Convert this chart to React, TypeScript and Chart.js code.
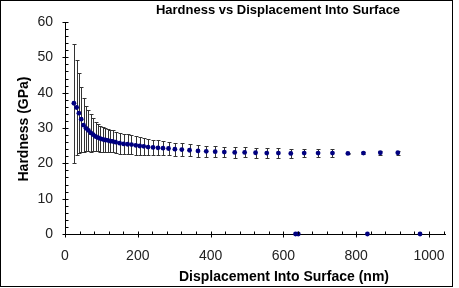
import React, { useEffect, useRef } from 'react';
import { Chart, registerables } from 'chart.js';

Chart.register(...registerables);

const chartTitle = 'Hardness vs Displacement Into Surface';
const xAxisTitle = 'Displacement Into Surface (nm)';
const yAxisTitle = 'Hardness (GPa)';

const displacement = [
  24.5, 31.9, 38.2, 44.5, 51.0, 57.8, 64.4, 70.9, 77.4, 84.0,
  90.5, 97.1, 103.6, 110.4, 117.3, 124.1, 130.9, 139.1, 150.0, 160.9,
  171.8, 182.7, 194.4, 205.3, 216.3, 228.3, 241.9, 255.5, 269.2, 284.4,
  301.9, 320.9, 342.2, 365.4, 388.1, 412.6, 437.7, 466.3, 493.6, 523.6,
  554.4, 586.3, 620.4, 657.2, 695.4, 734.9, 777.2, 820.0, 866.4, 914.4,
];
const hardness = [
  37.0, 35.8, 34.2, 32.5, 30.8, 29.9, 29.3, 28.6, 28.1, 27.6,
  27.3, 27.0, 26.8, 26.6, 26.5, 26.3, 26.2, 26.0, 25.7, 25.5,
  25.4, 25.3, 25.1, 24.9, 24.8, 24.6, 24.5, 24.4, 24.3, 24.2,
  24.0, 23.9, 23.7, 23.5, 23.4, 23.3, 23.2, 23.1, 23.1, 23.0,
  22.9, 22.9, 22.8, 22.9, 22.9, 22.9, 22.8, 22.9, 23.0, 23.0,
];
const hardnessSd = [
  16.9, 13.5, 11.3, 9.2, 7.6, 6.4, 5.8, 5.3, 4.7, 4.1,
  3.9, 3.7, 3.5, 3.3, 3.2, 3.1, 3.1, 3.0, 3.0, 2.9,
  2.8, 2.7, 2.6, 2.5, 2.4, 2.3, 2.2, 2.1, 2.0, 1.9,
  1.8, 1.8, 1.7, 1.6, 1.6, 1.5, 1.5, 1.5, 1.4, 1.4,
  1.3, 1.3, 1.3, 1.1, 1.1, 1.2, 0.1, 0.3, 0.5, 0.5,
];
const failedDisplacement = [633.5, 640.9, 830.9, 975.5];
const failedHardness = [0, 0, 0, 0];

const xMin = 0;
const xMax = 1045;
const xMajorStep = 200;
const xMinorStep = 40;
const yMin = 0;
const yMax = 60;
const yMajorStep = 10;
const yMinorStep = 2;

const FONT = '"Liberation Sans", Arial, sans-serif';
const MARKER = '#000080';

const errorBarPlugin = {
  id: 'errorBars',
  beforeDatasetsDraw(chart: any) {
    const { ctx, scales } = chart;
    const xs = scales.x;
    const ys = scales.y;
    ctx.save();
    ctx.strokeStyle = '#333333';
    ctx.lineWidth = 1;
    for (let i = 0; i < displacement.length; i++) {
      const sd = hardnessSd[i];
      if (!sd) continue;
      const x = Math.round(xs.getPixelForValue(displacement[i])) + 0.5;
      const yt = Math.round(ys.getPixelForValue(hardness[i] + sd)) + 0.5;
      const yb = Math.round(ys.getPixelForValue(hardness[i] - sd)) + 0.5;
      ctx.beginPath();
      ctx.moveTo(x, yt);
      ctx.lineTo(x, yb);
      ctx.moveTo(x - 2, yt);
      ctx.lineTo(x + 2, yt);
      ctx.moveTo(x - 2, yb);
      ctx.lineTo(x + 2, yb);
      ctx.stroke();
    }
    ctx.restore();
  },
};

const decorPlugin = {
  id: 'decor',
  afterDraw(chart: any) {
    const { ctx, scales, chartArea } = chart;
    const xs = scales.x;
    const ys = scales.y;
    ctx.save();
    ctx.strokeStyle = '#000';
    ctx.lineWidth = 1;
    ctx.beginPath();
    const axisX = Math.round(chartArea.left) + 0.5;
    const axisY = Math.round(chartArea.bottom) + 0.5;
    for (let v = yMin; v <= yMax + 1e-9; v += yMinorStep) {
      const y = Math.round(ys.getPixelForValue(v)) + 0.5;
      const major = Math.abs(v % yMajorStep) < 1e-9;
      ctx.moveTo(axisX - (major ? 3 : 0), y);
      ctx.lineTo(axisX + 3, y);
    }
    for (let v = xMin; v <= xMax + 1e-9; v += xMinorStep) {
      const x = Math.round(xs.getPixelForValue(v)) + 0.5;
      const major = Math.abs(v % xMajorStep) < 1e-9;
      ctx.moveTo(x, axisY + (major ? 3 : 0));
      ctx.lineTo(x, axisY - 3);
    }
    ctx.stroke();
    ctx.strokeRect(0.5, 0.5, 452, 286);
    ctx.fillStyle = '#000';
    ctx.textAlign = 'center';
    ctx.textBaseline = 'middle';
    ctx.font = `bold 13px ${FONT}`;
    ctx.fillText(chartTitle, 278, 10);
    ctx.font = `bold 14px ${FONT}`;
    ctx.fillText(xAxisTitle, 284, 277);
    ctx.font = `bold 14px ${FONT}`;
    ctx.translate(24, 129);
    ctx.rotate(-Math.PI / 2);
    ctx.fillText(yAxisTitle, 0, 0);
    ctx.restore();
  },
};

export default function App() {
  const ref = useRef<HTMLCanvasElement | null>(null);
  useEffect(() => {
    document.body.style.margin = '0';
    const canvas = ref.current;
    if (!canvas) return;
    const chart = new Chart(canvas, {
      type: 'scatter',
      data: {
        datasets: [
          {
            data: displacement.map((x, i) => ({ x, y: hardness[i] })),
            backgroundColor: MARKER,
            borderColor: MARKER,
            pointRadius: 2.4,
            pointBorderWidth: 0,
            pointStyle: 'circle',
            showLine: false,
            clip: false,
          } as any,
          {
            data: failedDisplacement.map((x, i) => ({ x, y: failedHardness[i] })),
            backgroundColor: MARKER,
            borderColor: MARKER,
            pointRadius: 2.4,
            pointBorderWidth: 0,
            pointStyle: 'circle',
            showLine: false,
            clip: false,
          } as any,
        ],
      },
      options: {
        responsive: false,
        animation: false,
        devicePixelRatio: 1,
        layout: { padding: { left: 0, right: 11, top: 22, bottom: 0 } },
        plugins: {
          legend: { display: false },
          tooltip: { enabled: false },
          title: { display: false },
        },
        scales: {
          x: {
            type: 'linear',
            min: xMin,
            max: xMax,
            afterFit: (s: any) => { s.height = 54; },
            grid: { display: false, drawTicks: false },
            border: { display: true, color: '#000', width: 1 },
            ticks: {
              stepSize: xMajorStep,
              includeBounds: false,
              padding: 14,
              color: '#222',
              font: { family: FONT, size: 14 },
              maxRotation: 0,
              callback: (v: any) => String(v),
            },
          },
          y: {
            type: 'linear',
            min: yMin,
            max: yMax,
            afterFit: (s: any) => { s.width = 65; },
            grid: { display: false, drawTicks: false },
            border: { display: true, color: '#000', width: 1 },
            ticks: {
              stepSize: yMajorStep,
              padding: 12,
              color: '#222',
              font: { family: FONT, size: 14 },
              callback: (v: any) => String(v),
            },
          },
        },
      } as any,
      plugins: [errorBarPlugin, decorPlugin],
    });
    return () => chart.destroy();
  }, []);
  return (
    <div style={{ width: 459, height: 288, background: '#fff' }}>
      <canvas ref={ref} width={459} height={288} />
    </div>
  );
}
